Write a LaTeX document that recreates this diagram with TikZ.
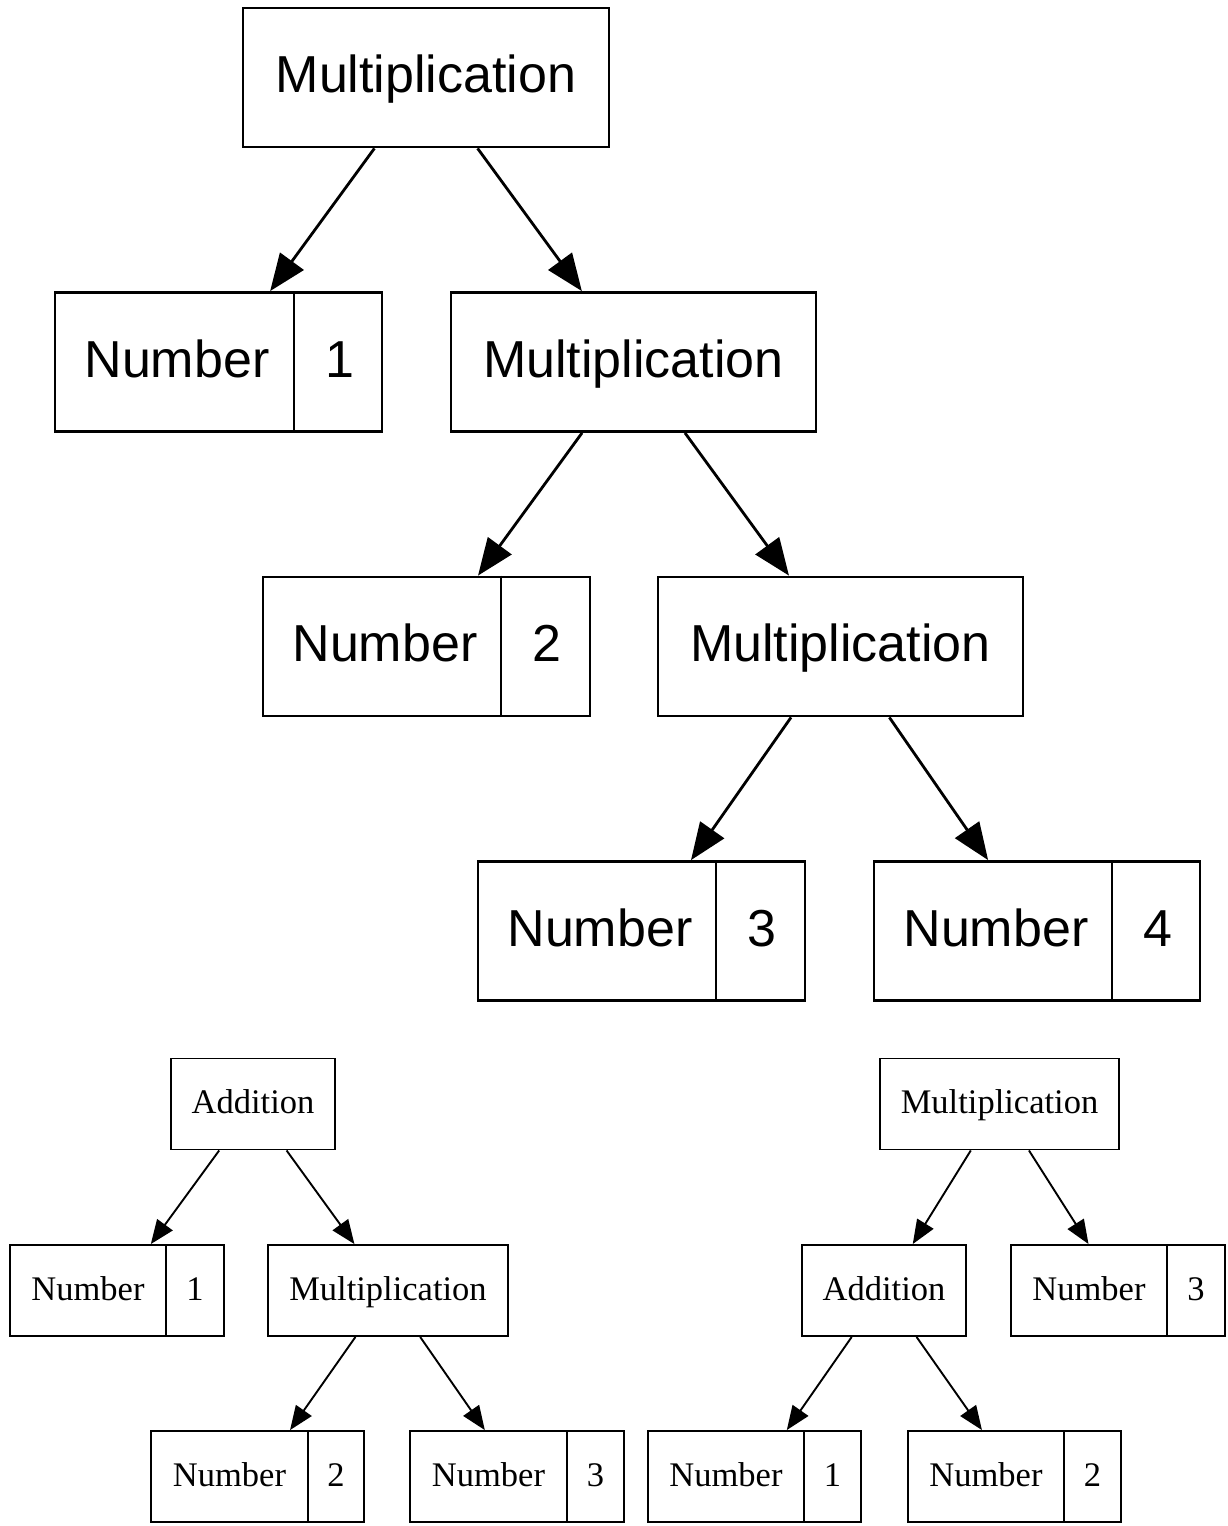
\documentclass[tikz,border=0pt]{standalone}
\usepackage{fontspec}
\newfontfamily\topfont{Liberation Sans}
\newfontfamily\botfont{Liberation Serif}
\usetikzlibrary{arrows.meta}
\begin{document}
\begin{tikzpicture}[x=1pt,y=-1pt,
  topbox/.style={draw, line width=2.8pt, inner sep=0pt, minimum height=139pt,
    font=\topfont\fontsize{52}{60}\selectfont, text height=30pt, text depth=0pt},
  toplbl/.style={inner sep=0pt, font=\topfont\fontsize{52}{60}\selectfont, text height=30pt, text depth=0pt},
  topline/.style={line width=2.8pt},
  topedge/.style={line width=2.8pt, -{Triangle[length=37pt,width=29pt]}},
  botbox/.style={draw, line width=1.9pt, inner sep=0pt, minimum height=91pt,
    font=\botfont\fontsize{34.5}{40}\selectfont, text height=19pt, text depth=0pt},
  botlbl/.style={inner sep=0pt, font=\botfont\fontsize{34.5}{40}\selectfont, text height=19pt, text depth=0pt},
  botline/.style={line width=1.9pt},
  botedge/.style={line width=1.9pt, -{Triangle[length=24pt,width=19pt]}}
]
\useasboundingbox (0,0) rectangle (1228,1526);

% ---------- top tree ----------
\node[topbox, minimum width=366pt] (m1) at (426,77.5) {Multiplication};
\node[topbox, minimum width=327pt] (n1) at (218.5,362) {};
\node[topbox, minimum width=365pt] (m2) at (633.5,362) {Multiplication};
\node[topbox, minimum width=327pt] (n2) at (426.5,646.5) {};
\node[topbox, minimum width=365pt] (m3) at (840.5,646.5) {Multiplication};
\node[topbox, minimum width=327pt] (n3) at (641.5,931) {};
\node[topbox, minimum width=326pt] (n4) at (1037,931) {};

\coordinate (n1d) at (294,362);
\coordinate (n2d) at (501,646.5);
\coordinate (n3d) at (716,931);
\coordinate (n4d) at (1112,931);
\draw[topline] (n1.north -| n1d) -- (n1.south -| n1d);
\draw[topline] (n2.north -| n2d) -- (n2.south -| n2d);
\draw[topline] (n3.north -| n3d) -- (n3.south -| n3d);
\draw[topline] (n4.north -| n4d) -- (n4.south -| n4d);

\node[toplbl] (n1a) at (177,362) {Number};
\node[toplbl] (n1b) at (340,362) {1};
\node[toplbl] (n2a) at (385,646.5) {Number};
\node[toplbl] (n2b) at (547,646.5) {2};
\node[toplbl] (n3a) at (600,931) {Number};
\node[toplbl] (n3b) at (762,931) {3};
\node[toplbl] (n4a) at (996,931) {Number};
\node[toplbl] (n4b) at (1158,931) {4};

\draw[topedge] (m1) -- (n1);
\draw[topedge] (m1) -- (m2);
\draw[topedge] (m2) -- (n2);
\draw[topedge] (m2) -- (m3);
\draw[topedge] (m3) -- (n3);
\draw[topedge] (m3) -- (n4);

% ---------- bottom left tree ----------
\node[botbox, minimum width=164pt] (a1) at (253,1104) {Addition};
\node[botbox, minimum width=214pt] (b1) at (117,1290.5) {};
\node[botbox, minimum width=240pt] (c1) at (388,1290.5) {Multiplication};
\node[botbox, minimum width=213pt] (d1) at (257.5,1476.5) {};
\node[botbox, minimum width=214pt] (e1) at (517,1476.5) {};

\coordinate (b1d) at (166,1290.5);
\coordinate (d1d) at (308,1476.5);
\coordinate (e1d) at (567,1476.5);
\draw[botline] (b1.north -| b1d) -- (b1.south -| b1d);
\draw[botline] (d1.north -| d1d) -- (d1.south -| d1d);
\draw[botline] (e1.north -| e1d) -- (e1.south -| e1d);

\node[botlbl] (b1a) at (88,1290.5) {Number};
\node[botlbl] (b1b) at (195,1290.5) {1};
\node[botlbl] (d1a) at (229.5,1476.5) {Number};
\node[botlbl] (d1b) at (336,1476.5) {2};
\node[botlbl] (e1a) at (488.5,1476.5) {Number};
\node[botlbl] (e1b) at (595.5,1476.5) {3};

\draw[botedge] (a1) -- (b1);
\draw[botedge] (a1) -- (c1);
\draw[botedge] (c1) -- (d1);
\draw[botedge] (c1) -- (e1);

% ---------- bottom right tree ----------
\node[botbox, minimum width=239pt] (a2) at (999.5,1104) {Multiplication};
\node[botbox, minimum width=164pt] (b2) at (884,1290.5) {Addition};
\node[botbox, minimum width=214pt] (c2) at (1118,1290.5) {};
\node[botbox, minimum width=213pt] (d2) at (754.5,1476.5) {};
\node[botbox, minimum width=213pt] (e2) at (1014.5,1476.5) {};

\coordinate (c2d) at (1167,1290.5);
\coordinate (d2d) at (804,1476.5);
\coordinate (e2d) at (1064,1476.5);
\draw[botline] (c2.north -| c2d) -- (c2.south -| c2d);
\draw[botline] (d2.north -| d2d) -- (d2.south -| d2d);
\draw[botline] (e2.north -| e2d) -- (e2.south -| e2d);

\node[botlbl] (c2a) at (1089,1290.5) {Number};
\node[botlbl] (c2b) at (1196,1290.5) {3};
\node[botlbl] (d2a) at (726,1476.5) {Number};
\node[botlbl] (d2b) at (832.5,1476.5) {1};
\node[botlbl] (e2a) at (986,1476.5) {Number};
\node[botlbl] (e2b) at (1092.5,1476.5) {2};

\draw[botedge] (a2) -- (b2);
\draw[botedge] (a2) -- (c2);
\draw[botedge] (b2) -- (d2);
\draw[botedge] (b2) -- (e2);
\end{tikzpicture}
\end{document}
